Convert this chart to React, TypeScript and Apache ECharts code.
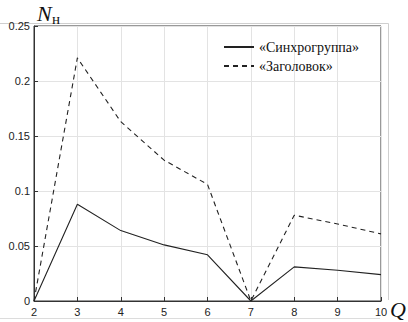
import React, { useEffect, useRef } from "react";
import * as echarts from "echarts";

const qValues = [2, 3, 4, 5, 6, 7, 8, 9, 10];
const syncGroup = [0, 0.088, 0.064, 0.051, 0.042, 0, 0.031, 0.028, 0.024];
const header = [0, 0.221, 0.163, 0.128, 0.106, 0, 0.078, 0.07, 0.061];
const seriesNames = ["«Синхрогруппа»", "«Заголовок»"];

export default function App() {
  const ref = useRef<HTMLDivElement>(null);
  useEffect(() => {
    if (!ref.current) return;
    const chart = echarts.init(ref.current, undefined, { renderer: "svg" });
    const toPairs = (vals: number[]) => qValues.map((q, i) => [q, vals[i]]);
    chart.setOption({
      animation: false,
      backgroundColor: "#fff",
      grid: {
        left: 34,
        right: 27,
        top: 26,
        bottom: 21,
        show: true,
        borderColor: "#333",
        borderWidth: 1,
      },
      graphic: [
        {
          type: "polyline",
          shape: { points: [[0, 23.5], [388.5, 23.5], [388.5, 300]] },
          style: { stroke: "#cfcfcf", fill: "none", lineWidth: 1 },
          silent: true,
        },
        {
          type: "line",
          shape: { x1: 0, y1: 318.5, x2: 380, y2: 318.5 },
          style: { stroke: "#dcdcdc", lineWidth: 1 },
          silent: true,
        },
        {
          type: "text",
          x: 37,
          y: 2,
          style: {
            text: "N",
            font: "italic 22px 'Liberation Serif', serif",
            fill: "#111",
          },
        },
        {
          type: "text",
          x: 52,
          y: 11,
          style: {
            text: "н",
            font: "15px 'Liberation Serif', serif",
            fill: "#111",
          },
        },
        {
          type: "text",
          x: 390,
          y: 298,
          style: {
            text: "Q",
            font: "italic 22px 'Liberation Serif', serif",
            fill: "#111",
          },
        },
      ],
      legend: {
        orient: "vertical",
        left: 223,
        top: 40,
        padding: 0,
        itemWidth: 30,
        itemHeight: 14,
        itemGap: 5,
        itemStyle: { opacity: 0 },
        textStyle: {
          fontFamily: "'Liberation Serif', serif",
          fontSize: 14,
          color: "#111",
        },
        data: seriesNames,
      },
      xAxis: {
        type: "value",
        min: 2,
        max: 10,
        interval: 1,
        axisLine: { lineStyle: { color: "#333", width: 1 } },
        axisTick: { inside: true, length: 4, lineStyle: { color: "#333" } },
        axisLabel: {
          fontFamily: "'Liberation Sans', Arial, sans-serif",
          fontSize: 11,
          color: "#222",
          margin: 5,
        },
        splitLine: { show: true, lineStyle: { color: "#e3e3e3", width: 1 } },
      },
      yAxis: {
        type: "value",
        min: 0,
        max: 0.25,
        interval: 0.05,
        axisLine: { show: true, lineStyle: { color: "#333", width: 1 } },
        axisTick: { show: true, inside: true, length: 4, lineStyle: { color: "#333" } },
        axisLabel: {
          fontFamily: "'Liberation Sans', Arial, sans-serif",
          fontSize: 11,
          color: "#222",
          margin: 4,
        },
        splitLine: { show: true, lineStyle: { color: "#e3e3e3", width: 1 } },
      },
      series: [
        {
          name: seriesNames[0],
          type: "line",
          data: toPairs(syncGroup),
          showSymbol: false,
          symbol: "none",
          lineStyle: { color: "#222", width: 1.1, type: "solid" },
          itemStyle: { color: "#222" },
        },
        {
          name: seriesNames[1],
          type: "line",
          data: toPairs(header),
          showSymbol: false,
          symbol: "none",
          lineStyle: { color: "#222", width: 1.1, type: [5, 4] },
          itemStyle: { color: "#222" },
        },
      ],
    });
    return () => chart.dispose();
  }, []);
  return (
    <div
      ref={ref}
      style={{ width: 408, height: 322, position: "absolute", left: 0, top: 0 }}
    />
  );
}
